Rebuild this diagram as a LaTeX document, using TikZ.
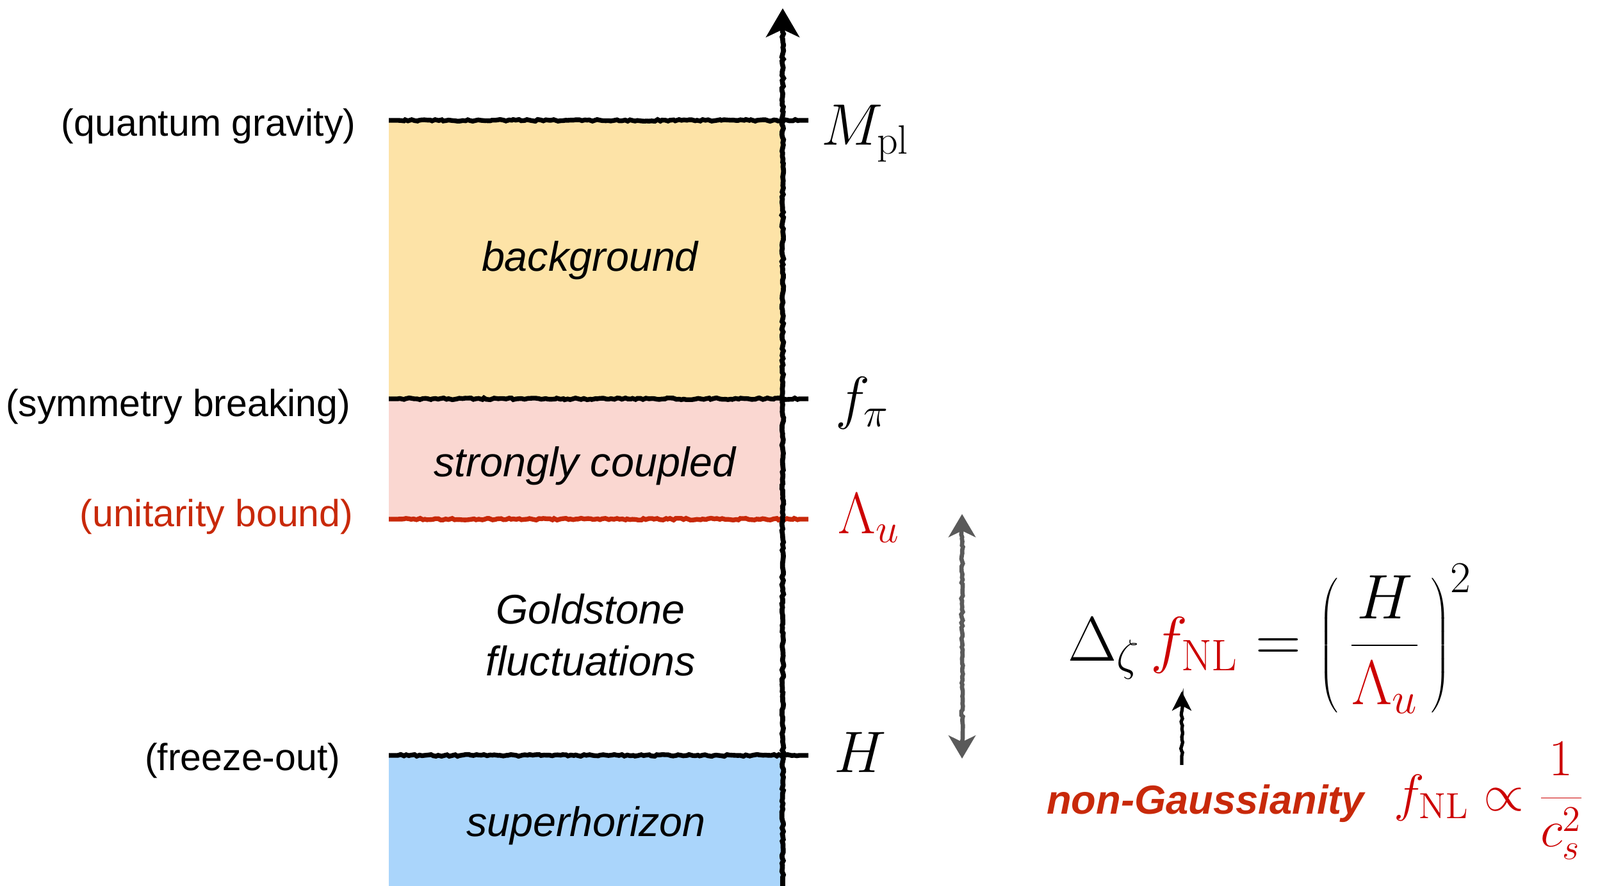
\RequirePackage{fix-cm}
\documentclass[tikz,border=0pt]{standalone}
\usepackage[no-math]{fontspec}
\setmainfont{Liberation Sans}
\usetikzlibrary{arrows.meta,decorations.pathmorphing}
\definecolor{bgyellow}{HTML}{FDE3A7}
\definecolor{scpink}{HTML}{FAD7D1}
\definecolor{shblue}{HTML}{AAD5FB}
\definecolor{keyred}{HTML}{C8290A}
\definecolor{mathred}{HTML}{CC0000}
\definecolor{arrgray}{HTML}{5A5A5A}
\begin{document}
\begin{tikzpicture}[chalk/.style={line width=2.1pt,decorate,decoration={random steps,segment length=1.2pt,amplitude=0.4pt,pre length=4pt,post length=4pt}},
  lab/.style={font=\fontsize{16.8}{20}\selectfont,anchor=east,inner sep=0pt},
  region/.style={font=\fontsize{18.4}{23}\selectfont\itshape,align=center,inner sep=0pt},
  energy/.style={font=\fontsize{26}{30}\selectfont,anchor=base west,inner sep=0pt}]
\useasboundingbox (0,0) rectangle (24.98,13.84);
\fill[bgyellow] (6.07,7.61) rectangle (12.22,11.96);
\fill[scpink] (6.07,5.73) rectangle (12.22,7.61);
\fill[shblue] (6.07,0) rectangle (12.22,2.04);
\node[region] (bg) at (9.21,9.77) {background};
\node[region] (sc) at (9.13,6.56) {strongly coupled};
\node[region] (gs) at (9.22,3.92) {Goldstone\\fluctuations};
\node[region] (sh) at (9.15,0.94) {superhorizon};
\node[lab] (qg) at (5.56,11.87) {(quantum gravity)};
\node[lab] (sb) at (5.48,7.49) {(symmetry breaking)};
\node[lab,keyred] (ub) at (5.52,5.77) {(unitarity bound)};
\node[lab] (fo) at (5.32,1.96) {(freeze-out)};
\node[energy] (Mpl) at (12.82,11.57) {$M_{\mathrm{pl}}$};
\node[energy] (fpi) at (13.04,7.31) {$f_\pi$};
\node[energy,mathred] (Lu) at (13.08,5.50) {$\Lambda_u$};
\node[energy] (H) at (13.02,1.77) {$H$};
\coordinate (l1) at (6.07,11.96); \coordinate (r1) at (12.62,11.96);
\coordinate (l2) at (6.07,7.61); \coordinate (r2) at (12.62,7.61);
\coordinate (l3) at (6.07,5.73); \coordinate (r3) at (12.62,5.73);
\coordinate (l4) at (6.07,2.04); \coordinate (r4) at (12.62,2.04);
\draw[chalk] (l1) -- (r1);
\draw[chalk] (l2) -- (r2);
\draw[chalk,keyred] (l3) -- (r3);
\draw[chalk] (l4) -- (r4);
\coordinate (base) at (12.22,0);
\coordinate (top) at (12.22,13.71);
\draw[chalk,line width=2.2pt,-{Stealth[length=0.45cm,width=0.52cm,inset=0.12cm]}] (base) -- (top);
\coordinate (ra) at (15.02,5.81);
\coordinate (rb) at (15.02,1.99);
\draw[chalk,arrgray,line width=1.9pt,{Stealth[length=0.36cm,width=0.42cm,inset=0.1cm]}-{Stealth[length=0.36cm,width=0.42cm,inset=0.1cm]}] (ra) -- (rb);
\node[font=\fontsize{28}{32}\selectfont] (eq) at (19.83,3.86) {$\displaystyle \Delta_\zeta\,{\color{mathred}f_{\mathrm{NL}}} = \left(\,\frac{H}{{\color{mathred}\Lambda_u}}\,\right)^{2}$};
\node[keyred,anchor=base,inner sep=0pt,font=\fontsize{18}{22}\selectfont\bfseries\itshape] (ng) at (18.82,1.12) {non-Gaussianity};
\node[mathred,font=\fontsize{23}{28}\selectfont] (cs) at (23.25,1.33) {$\displaystyle f_{\mathrm{NL}}\propto\frac{1}{c_s^2}$};
\coordinate (ngt) at (18.45,1.89);
\coordinate (fnl) at (18.45,3.04);
\draw[chalk,line width=1.5pt,-{Stealth[length=0.3cm,width=0.3cm,inset=0.08cm]}] (ngt) -- (fnl);
\end{tikzpicture}
\end{document}
